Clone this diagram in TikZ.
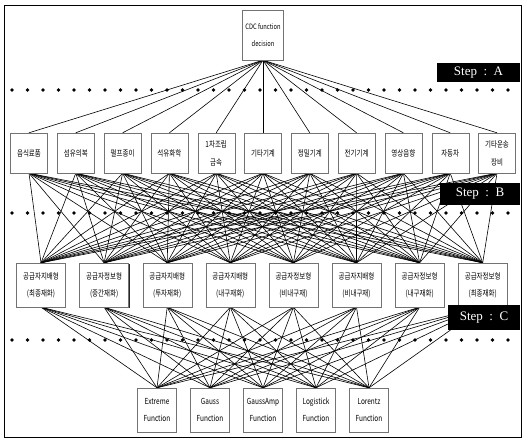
\documentclass[tikz,border=0pt]{standalone}
\usepackage{fontspec}
\setmainfont{Liberation Serif}
\newfontfamily\kr[FakeStretch=0.78]{Noto Sans CJK KR}
\usetikzlibrary{shadows}
\pgfdeclarelayer{bg}
\pgfsetlayers{bg,main}
\begin{document}
\begin{tikzpicture}[x=1pt,y=-1pt,
  box/.style={draw=black!55, line width=0.4pt, fill=white, inner sep=1pt, align=center,
    font=\kr\fontsize{8.3}{9}\selectfont,
    general shadow={shadow xshift=0.9pt, shadow yshift=-0.9pt, fill=black, opacity=0.85}},
  topbox/.style={box, minimum width=40pt, minimum height=50pt, text width=39pt,
    font=\kr\fontsize{7.4}{9}\selectfont},
  bbox/.style={box, minimum width=37pt, minimum height=40pt, text width=35pt},
  cbox/.style={box, minimum width=49pt, minimum height=44pt, text width=47pt},
  dbox/.style={box, minimum width=39pt, minimum height=44pt, text width=37pt},
  steplbl/.style={fill=black, text=white, font=\fontsize{13}{14}\selectfont, inner sep=0pt},
  dotline/.style={line width=3.6pt, line cap=round, dash pattern=on 0pt off 15.5pt},
  wire/.style={line width=0.6pt, black}]
\useasboundingbox (0,0) rectangle (528,446);

% nodes
\node[topbox] (top) at (263,35) {CDC\,function\\[8pt]decision};

\foreach \t [count=\i] in {음식료품,섬유의복,펄프종이,석유화학,{1차조립\\[9pt]금속},기타기계,정밀기계,전기기계,영상음향,자동차,{기타운송\\[9pt]장비}}
  \node[bbox] (b\i) at ({29+46.8*(\i-1)},153) {\t};

\foreach \t [count=\j] in {{공급자지배형\\[8pt](최종재화)},{공급자정보형\\[8pt](중간재화)},{공급자지배형\\[8pt](투자재화)},{공급자지배형\\[8pt](내구재화)},{공급자정보형\\[8pt](비내구재)},{공급자지배형\\[8pt](비내구재)},{공급자정보형\\[8pt](내구재화)},{공급자정보형\\[8pt](최종재화)}}
  \node[cbox] (c\j) at ({41+63.1*(\j-1)},285) {\t};

\foreach \t [count=\k] in {{Extreme\\[8pt]Function},{Gauss\\[8pt]Function},{GaussAmp\\[8pt]Function},{Logistick\\[8pt]Function},{Lorentz\\[8pt]Function}}
  \node[dbox] (d\k) at ({157+53*(\k-1)},410) {\t};

% background: page, frame, dotted separators and connectors
\begin{pgfonlayer}{bg}
  \fill[white] (0,0) rectangle (528,446);
  \draw[line width=0.8pt] (4,5) rectangle (521,437);
  \draw[dotline] (12,90) -- (520,90);
  \draw[dotline] (12,213) -- (520,213);
  \draw[dotline] (12,340) -- (520,340);
  \foreach \i in {1,...,11} \draw[wire] (top.south) -- (b\i.north);
  \foreach \i in {1,...,11}
    \foreach \j in {1,...,8} \draw[wire] (b\i.south) -- (c\j.north);
  \foreach \j in {1,...,8}
    \foreach \k in {1,...,5} \draw[wire] (c\j.south) -- (d\k.north);
\end{pgfonlayer}

% step labels
\node[steplbl, minimum width=83pt, minimum height=19pt] (sa) at (478.5,72.5) {Step\enspace:\enspace A};
\node[steplbl, minimum width=80pt, minimum height=22pt] (sb) at (480,194) {Step\enspace:\enspace B};
\node[steplbl, minimum width=72pt, minimum height=25pt] (sc) at (484,318) {Step\enspace:\enspace C};
\end{tikzpicture}
\end{document}
